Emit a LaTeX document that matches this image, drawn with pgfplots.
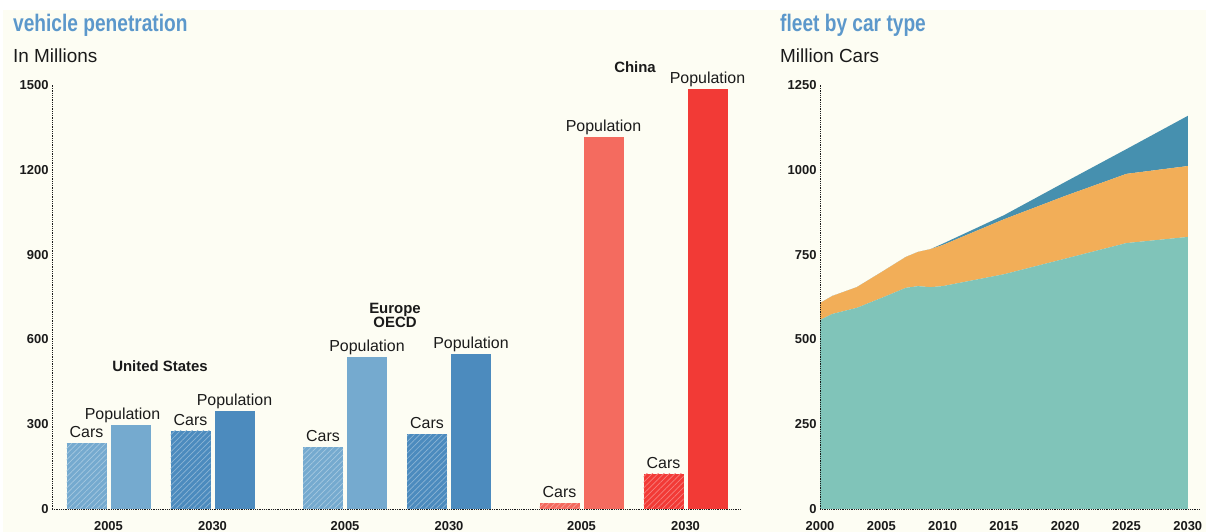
\documentclass[border=0pt]{standalone}
\usepackage{fontspec}
\setmainfont{Liberation Sans}
\newfontfamily\condfont[FakeStretch=0.8]{Liberation Sans}
\usepackage{pgfplots}
\pgfplotsset{compat=1.18}
\usetikzlibrary{patterns.meta}
\definecolor{cream}{HTML}{FDFDF3}
\definecolor{titleblue}{HTML}{5C98CB}
\definecolor{lblue}{HTML}{75AACF}
\definecolor{dblue}{HTML}{4C8BBE}
\definecolor{lred}{HTML}{F46B5F}
\definecolor{dred}{HTML}{F23A36}
\definecolor{gasc}{HTML}{80C4B9}
\definecolor{dieselc}{HTML}{F2AE58}
\definecolor{advc}{HTML}{4690AF}
\definecolor{txt}{HTML}{1A1A1A}

\pgfplotstableread{
year gas diesel adv
2000 557 50 0
2001 575 53 0
2003 593 61 0
2005 622 76 0
2007 652 91 0
2008 657 101 0
2009 654 112 0
2010 657 121 4
2015 692 162 12
2020 738 185 41
2025 784 204 73
2030 802 209 148
}\fleet

\pgfplotsset{
  common/.style={
    scale only axis,
    axis x line=bottom, axis y line=left,
    axis line style={-, densely dotted, line width=0.8bp, txt},
    major tick length=0pt,
    tick label style={font=\bfseries\fontsize{13}{13}\selectfont, text=txt},
    xticklabel style={inner sep=0pt, anchor=north, yshift=-12bp},
    /pgf/number format/assume math mode=true,
    /pgf/number format/1000 sep={},
    clip=false,
  },
  carbar/.style={fill=#1, draw=none,
    postaction={pattern={Lines[angle=45,distance=4bp,line width=0.7bp]}, pattern color=white!35!#1},
    nodes near coords={Cars}},
  popbar/.style={fill=#1, draw=none, nodes near coords={Population}},
}

\begin{document}
\begin{tikzpicture}[x=1bp,y=1bp]
\fill[white] (0,0) rectangle (1206,532);
\fill[cream] (3,0) rectangle (1206,522);

\node[anchor=base west, inner sep=0pt, text=titleblue, font=\condfont\bfseries\fontsize{24}{24}\selectfont] at (13,500.5) {vehicle penetration};
\node[anchor=base west, inner sep=0pt, text=txt, font=\fontsize{19}{19}\selectfont] at (13,469.5) {In Millions};
\node[anchor=base west, inner sep=0pt, text=titleblue, font=\condfont\bfseries\fontsize{24}{24}\selectfont] at (780,500.5) {fleet by car type};
\node[anchor=base west, inner sep=0pt, text=txt, font=\fontsize{19}{19}\selectfont] at (780,469.5) {Million Cars};

\begin{axis}[common,
  at={(52bp,23bp)}, anchor=south west,
  width=688bp, height=424bp,
  xmin=0, xmax=688, ymin=0, ymax=1500,
  ytick={0,300,...,1500},
  xtick={56.5,160.5,293,397,529.5,633.5},
  xticklabels={2005,2030,2005,2030,2005,2030},
  ybar, bar width=40, bar shift=0pt,
  every node near coord/.append style={font=\fontsize{16}{16}\selectfont, text=txt, anchor=base, yshift=5.5bp, inner sep=0pt},
]
% United States
\addplot[carbar=lblue] coordinates {(34.5,233)};
\addplot[popbar=lblue, every node near coord/.append style={xshift=-8bp}] coordinates {(78.5,297)};
\addplot[carbar=dblue] coordinates {(138.5,276)};
\addplot[popbar=dblue] coordinates {(182.5,347)};
% Europe OECD
\addplot[carbar=lblue] coordinates {(271,219)};
\addplot[popbar=lblue] coordinates {(315,538)};
\addplot[carbar=dblue] coordinates {(375,265)};
\addplot[popbar=dblue] coordinates {(419,548)};
% China
\addplot[carbar=lred] coordinates {(507.5,21)};
\addplot[popbar=lred] coordinates {(551.5,1316)};
\addplot[carbar=dred] coordinates {(611.5,124)};
\addplot[popbar=dred] coordinates {(655.5,1486)};

\node[font=\bfseries\fontsize{15}{15}\selectfont, text=txt] at (axis cs:108,506) {United States};
\node[font=\bfseries\fontsize{15}{15}\selectfont, text=txt, align=center] at (axis cs:343,686) {Europe\\[-1bp]OECD};
\node[font=\bfseries\fontsize{15}{15}\selectfont, text=txt] at (axis cs:583,1563) {China};
\end{axis}

\begin{axis}[common,
  at={(820bp,23bp)}, anchor=south west,
  width=380bp, height=424bp,
  xmin=2000, xmax=2031, ymin=0, ymax=1250,
  xtick={2000,2005,...,2030},
  ytick={0,250,...,1250},
  stack plots=y, area style,
]
\addplot[fill=gasc, draw=none] table[x=year,y=gas]{\fleet} \closedcycle;
\addplot[fill=dieselc, draw=none] table[x=year,y=diesel]{\fleet} \closedcycle;
\addplot[fill=advc, draw=none] table[x=year,y=adv]{\fleet} \closedcycle;
\node[font=\bfseries\fontsize{15}{15}\selectfont, text=white] at (axis cs:2026.7,348) {Gasoline};
\node[font=\bfseries\fontsize{15}{15}\selectfont, text=white, anchor=east, inner sep=0pt] at (axis cs:2029.4,896) {Diesel};
\node[font=\bfseries\fontsize{15}{15}\selectfont, text=white, anchor=east, inner sep=0pt] at (axis cs:2029.4,1020) {Advanced};
\end{axis}
\end{tikzpicture}
\end{document}
